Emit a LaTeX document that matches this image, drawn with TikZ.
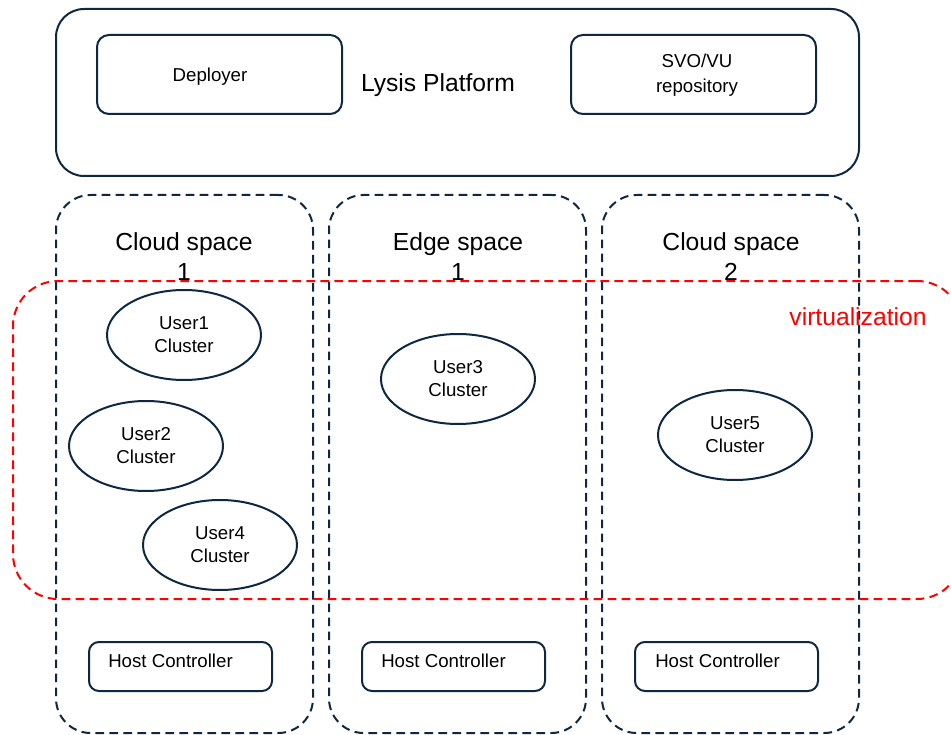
\documentclass[tikz,border=0pt]{standalone}
\usepackage{fontspec}
\setmainfont{Liberation Sans}
\usetikzlibrary{shapes.geometric}
\definecolor{navy}{HTML}{0E2841}
\definecolor{virtred}{HTML}{FF0000}
\begin{document}
\begin{tikzpicture}[x=0.75pt,y=-0.75pt,
  solidbox/.style={draw=navy, line width=1.5pt, inner sep=0pt},
  spacebox/.style={draw=navy, line width=1.5pt, inner sep=0pt,
    dash pattern=on 6.5pt off 4pt, rounded corners=26pt},
  virtbox/.style={draw=virtred, line width=1.5pt, inner sep=0pt,
    dash pattern=on 6.5pt off 4pt, rounded corners=33.75pt},
  cluster/.style={ellipse, draw=navy, line width=1.5pt, inner sep=0pt,
    minimum width=115.5pt, minimum height=67.5pt, align=center,
    font=\fontsize{14}{17.25}\selectfont},
  hostbox/.style={solidbox, rounded corners=7.5pt,
    minimum width=137.25pt, minimum height=36.75pt},
  small/.style={font=\fontsize{14}{17.25}\selectfont, inner sep=0pt},
  big/.style={font=\fontsize{18.5}{22.5}\selectfont, inner sep=0pt, align=center},
]
\useasboundingbox (0,0) rectangle (951,735);
\clip (0,0) rectangle (951,735);

% platform with its two services
\node[solidbox, rounded corners=21pt, minimum width=602.25pt, minimum height=125.25pt]
  (platform) at (457.5,92.5) {};
\node[solidbox, rounded corners=9pt, minimum width=183.75pt, minimum height=59.25pt]
  (deployer) at (219.5,74.5) {};
\node[small, anchor=base] (deployertext) at (210,82) {Deployer};
\node[solidbox, rounded corners=9pt, minimum width=183.75pt, minimum height=59.25pt]
  (repo) at (693.5,74.5) {};
\node[small, align=center, font=\fontsize{14}{18.75}\selectfont]
  (repotext) at (697,75.5) {SVO/VU\\repository};
\node[big, anchor=base] (platformtext) at (438,91.5) {Lysis Platform};

% spaces
\node[spacebox, minimum width=192.75pt, minimum height=403.5pt] (cs1) at (184.5,464) {};
\node[spacebox, minimum width=192.75pt, minimum height=403.5pt] (es1) at (457.5,464) {};
\node[spacebox, minimum width=192.75pt, minimum height=403.5pt] (cs2) at (730.5,464) {};
\node[big] (cs1title) at (184,256.5) {Cloud space\\1};
\node[big] (es1title) at (458,256.5) {Edge space\\1};
\node[big] (cs2title) at (731,256.5) {Cloud space\\2};

% virtualization layer
\node[virtbox, minimum width=711.75pt, minimum height=238.5pt] (virt) at (487.5,440) {};
\node[big, anchor=base, text=virtred] (virttext) at (858,325) {virtualization};

% user clusters
\node[cluster] (u1) at (184,335) {User1\\Cluster};
\node[cluster] (u2) at (146,446) {User2\\Cluster};
\node[cluster] (u4) at (220,545) {User4\\Cluster};
\node[cluster] (u3) at (458,379) {User3\\Cluster};
\node[cluster] (u5) at (735,435) {User5\\Cluster};

% host controllers
\node[hostbox] (hc1) at (180.5,666.5) {};
\node[hostbox] (hc2) at (453.5,666.5) {};
\node[hostbox] (hc3) at (726.5,666.5) {};
\node[small, anchor=base west] (hc1text) at (108,667) {Host Controller};
\node[small, anchor=base west] (hc2text) at (381,667) {Host Controller};
\node[small, anchor=base west] (hc3text) at (655,667) {Host Controller};
\end{tikzpicture}
\end{document}
